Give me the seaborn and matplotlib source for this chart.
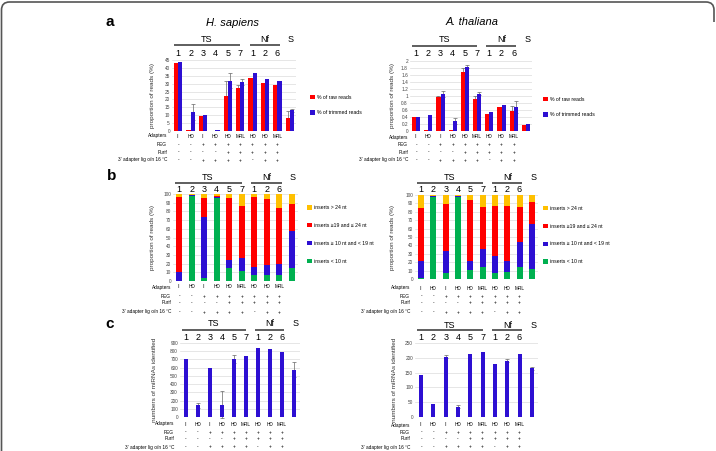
import numpy as np
import pandas as pd
import seaborn as sns
import matplotlib.pyplot as plt
from matplotlib.transforms import blended_transform_factory
from matplotlib.path import Path
from matplotlib.patches import PathPatch

W, H = 716, 451

# ---- data ----
lanes = ['TS1', 'TS2', 'TS3', 'TS4', 'TS5', 'TS7', 'Nf1', 'Nf2', 'Nf6', 'S']
lane_nums = ['1', '2', '3', '4', '5', '7', '1', '2', '6']
adapters = ['Il', 'HD', 'Il', 'HD', 'HD', 'MRL', 'HD', 'HD', 'MRL']
peg = ['-', '-', '+', '+', '+', '+', '+', '+', '+']
purif = ['-', '-', '-', '-', '+', '+', '+', '+', '+']
lig = ['-', '-', '+', '+', '+', '+', '-', '+', '+']
row_names = ['Adapters', 'PEG', 'Purif', "3' adapter lig o/n 16 °C"]

# a: proportion of reads
hs_raw = [43, 0.5, 9.7, 0.3, 22.5, 27, 33.5, 30.5, 29, 8]
hs_trim = [43.5, 12, 10, 0.5, 32, 31, 36.5, 33, 31.5, 13]
hs_raw_err = [0, 0, 0, 0, 9, 2, 0, 0, 0, 4.5]
hs_trim_err = [0, 5, 0, 0, 4.5, 2, 0, 0, 0, 1]
at_raw = [0.4, 0.02, 0.97, 0.02, 1.7, 0.92, 0.5, 0.68, 0.58, 0.17]
at_trim = [0.4, 0.45, 1.05, 0.29, 1.84, 1.07, 0.55, 0.75, 0.69, 0.2]
at_raw_err = [0, 0, 0.03, 0, 0.1, 0.08, 0, 0, 0.13, 0]
at_trim_err = [0, 0, 0.08, 0.08, 0.05, 0.04, 0, 0, 0.17, 0]
series_a = ['% of raw reads', '% of trimmed reads']

# b: insert size distribution (%)
hs_lt10 = [0, 98, 3, 95, 15, 12, 7, 7, 7, 15]
hs_10_19 = [10, 0.5, 71, 2, 9, 14, 9, 11, 12, 42]
hs_19_24 = [86, 0.5, 21, 1, 71, 60, 81, 76, 65, 32]
hs_gt24 = [4, 1, 5, 2, 5, 14, 3, 6, 16, 11]
at_lt10 = [1, 98, 7, 98, 11, 14, 7, 8, 14, 12]
at_10_19 = [20, 0.5, 26, 0.5, 11, 22, 20, 14, 30, 54]
at_19_24 = [63, 0.5, 56, 0.5, 72, 50, 60, 65, 42, 26]
at_gt24 = [16, 1, 11, 1, 6, 14, 13, 13, 14, 8]
insert_labels = ['inserts < 10 nt', 'inserts \u2265 10 nt and < 19 nt',
                 'inserts \u226519 and \u2264 24 nt', 'inserts > 24 nt']

# c: miRNAs identified
hs_mirna = [705, 140, 600, 150, 705, 740, 835, 825, 785, 575]
hs_mirna_err = [0, 30, 0, 165, 45, 0, 0, 0, 0, 90]
at_mirna = [143, 45, 203, 35, 212, 220, 178, 190, 213, 165]
at_mirna_err = [0, 0, 5, 5, 0, 0, 0, 5, 0, 5]

RED = '#FF0000'
BLUE = '#2D0FD2'
GREEN = '#00B050'
YELLOW = '#FFC000'
insert_colors = [GREEN, BLUE, RED, YELLOW]

plt.rcParams['font.family'] = 'Liberation Sans'
fig = plt.figure(figsize=(W / 100, H / 100), dpi=100)


def fx(px):
    return px / W


def fy(py):
    return 1 - py / H


def add_axes(box):
    l, t, r, b = box
    return fig.add_axes([fx(l), fy(b), (r - l) / W, (b - t) / H])


def decorate(ax, lay, yticks, ylabel):
    ax.set_xlim(-0.5, 9.5)
    ax.set_ylim(yticks[0], yticks[-1])
    ax.set_yticks(yticks)
    ax.set_yticklabels([f'{v:g}' for v in yticks])
    ax.set_xticks([])
    ax.set_xlabel('')
    ax.set_ylabel(ylabel, fontsize=4.6, color='#333333')
    ax.yaxis.set_label_coords(-lay['ylab'], 0.5)
    ax.tick_params(axis='y', length=0, pad=1.5, labelsize=3.4, labelcolor='#444444')
    sns.despine(ax=ax, left=True, bottom=True)
    ax.grid(axis='y', color='#dcdcdc', lw=0.5)
    ax.set_axisbelow(True)
    tr = blended_transform_factory(ax.transData, fig.transFigure)
    for i, n in enumerate(lane_nums):
        ax.text(i, fy(lay['num']), n, transform=tr, ha='center', va='center', fontsize=6.5)
    for x, s in [(2.3, 'TS'), (7.0, 'Nf'), (9.1, 'S')]:
        ax.text(x, fy(lay['grp']), s, transform=tr, ha='center', va='center', fontsize=6.5)
    for x0, x1 in [(-0.35, 5.0), (5.75, 8.2)]:
        ax.plot([x0, x1], [fy(lay['line'])] * 2, transform=tr, color='#333333',
                lw=1.1, clip_on=False, solid_capstyle='butt')
    for name, vals, py in zip(row_names, [adapters, peg, purif, lig], lay['rows']):
        fig.text(fx(lay['rowx']), fy(py), name, ha='right', va='center', fontsize=3.4)
        for i, v in enumerate(vals):
            ax.text(i, fy(py), v, transform=tr, ha='center', va='center', fontsize=3.4)


def add_err(ax, container, errs):
    xs = [p.get_x() + p.get_width() / 2 for p in container]
    hs = [p.get_height() for p in container]
    for x, h, e in zip(xs, hs, errs):
        if e > 0:
            ax.errorbar(x, h, yerr=e, fmt='none', ecolor='#666666', elinewidth=0.5,
                        capsize=1.3, capthick=0.5, zorder=0.9, clip_on=False)


def legend(ax, x, y, spacing):
    h, l = ax.get_legend_handles_labels()
    ax.legend(h, l, loc='center left', bbox_to_anchor=(fx(x), fy(y)),
              bbox_transform=fig.transFigure, frameon=False, fontsize=3.7,
              handlelength=0.9, handleheight=0.9, handletextpad=0.4,
              labelspacing=spacing, borderpad=0, borderaxespad=0)


layouts = {
    'a_hs': dict(box=(172, 60, 296, 131), num=53, line=45, grp=39, ylab=0.137,
                 rows=[136, 144.5, 152, 160], rowx=167),
    'a_at': dict(box=(410, 61, 532, 131), num=54, line=46, grp=40, ylab=0.123,
                 rows=[137, 145, 152, 160], rowx=408),
    'b_hs': dict(box=(173, 194, 298, 281), num=190, line=183, grp=177, ylab=0.144,
                 rows=[287, 296, 303, 312], rowx=171),
    'b_at': dict(box=(415, 195, 538, 279), num=190, line=183, grp=177, ylab=0.163,
                 rows=[288, 296, 303, 312], rowx=410),
    'c_hs': dict(box=(180, 343, 300, 417), num=337, line=330, grp=324, ylab=0.19,
                 rows=[424, 432, 439, 447], rowx=174),
    'c_at': dict(box=(415, 343, 538, 417), num=337, line=330, grp=325, ylab=0.146,
                 rows=[425, 432, 439, 447], rowx=410),
}

# ---- panel a ----
for key, raw, trim, raw_err, trim_err, yt, lx, ly in [
        ('a_hs', hs_raw, hs_trim, hs_raw_err, hs_trim_err, np.arange(0, 46, 5), 310, 105),
        ('a_at', at_raw, at_trim, at_raw_err, at_trim_err, np.round(np.arange(0, 2.01, 0.2), 1), 543, 107)]:
    lay = layouts[key]
    ax = add_axes(lay['box'])
    df = pd.DataFrame({'lane': lanes * 2, 'value': raw + trim,
                       'series': [series_a[0]] * 10 + [series_a[1]] * 10})
    sns.barplot(data=df, x='lane', y='value', hue='series', order=lanes,
                hue_order=series_a, palette=[RED, BLUE], width=0.68,
                saturation=1, errorbar=None, ax=ax)
    add_err(ax, ax.containers[0], raw_err)
    add_err(ax, ax.containers[1], trim_err)
    decorate(ax, lay, yt, 'proportion of reads (%)')
    legend(ax, lx, ly, 2.1)

# ---- panel b ----
for key, segs, lx, ly in [('b_hs', [hs_lt10, hs_10_19, hs_19_24, hs_gt24], 307, 234.5),
                          ('b_at', [at_lt10, at_10_19, at_19_24, at_gt24], 543, 235)]:
    lay = layouts[key]
    ax = add_axes(lay['box'])
    cums = np.cumsum(segs, axis=0)
    for k in range(3, -1, -1):
        sns.barplot(x=lanes, y=cums[k], order=lanes, color=insert_colors[k],
                    width=0.48, saturation=1, label=insert_labels[k], ax=ax)
    decorate(ax, lay, np.arange(0, 101, 10), 'proportion of reads (%)')
    legend(ax, lx, ly, 2.5)

# ---- panel c ----
for key, vals, errs, yt in [('c_hs', hs_mirna, hs_mirna_err, np.arange(0, 901, 100)),
                            ('c_at', at_mirna, at_mirna_err, np.arange(0, 251, 50))]:
    lay = layouts[key]
    ax = add_axes(lay['box'])
    sns.barplot(x=lanes, y=vals, order=lanes, color=BLUE, width=0.33,
                saturation=1, ax=ax)
    add_err(ax, ax.containers[0], errs)
    decorate(ax, lay, yt, 'numbers of miRNAs identified')

# ---- titles and panel letters ----
fig.text(fx(232), fy(23), 'H. sapiens', style='italic', fontsize=8, ha='center', va='center')
fig.text(fx(472), fy(22), 'A. thaliana', style='italic', fontsize=8, ha='center', va='center')
for s, x, y in [('a', 110, 22), ('b', 112, 176), ('c', 110, 324)]:
    fig.text(fx(x), fy(y), s, fontsize=11, fontweight='bold', ha='center', va='center')

# frame around the figure (open at the bottom)
r = 8
verts = [(1.5, H + 5), (1.5, 2 + r), (1.5, 2), (1.5 + r, 2), (W - 2 - r, 2),
         (W - 2, 2), (W - 2, 2 + r), (W - 2, 22)]
codes = [Path.MOVETO, Path.LINETO, Path.CURVE3, Path.CURVE3, Path.LINETO,
         Path.CURVE3, Path.CURVE3, Path.LINETO]
frame = Path([(fx(x), fy(y)) for x, y in verts], codes)
fig.patches.append(PathPatch(frame, transform=fig.transFigure, fill=False,
                             edgecolor='#555555', lw=1.2))

fig.savefig('out.png', dpi=100)
